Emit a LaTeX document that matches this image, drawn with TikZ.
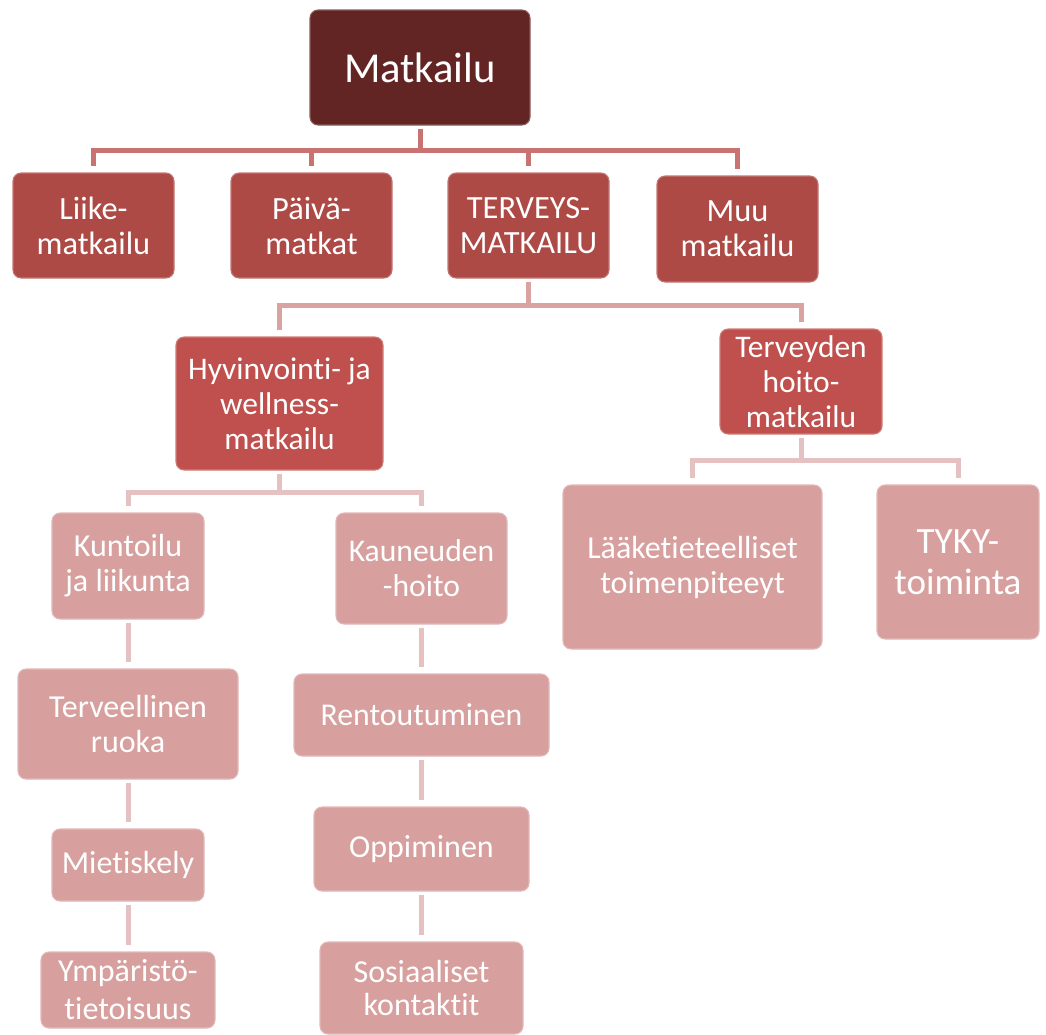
\documentclass[tikz,border=0pt]{standalone}
\usepackage{fontspec}
\setmainfont[Ligatures=NoCommon]{Carlito}
\definecolor{cTop}{HTML}{632523}
\definecolor{cL1}{HTML}{AE4A46}
\definecolor{cL2}{HTML}{C0504D}
\definecolor{cL3}{HTML}{D7A09F}
\definecolor{lnA}{HTML}{C87372}
\definecolor{lnB}{HTML}{D9A3A2}
\definecolor{lnC}{HTML}{E5C2C1}
\newcommand{\fsz}[2]{\fontsize{#1}{#2}\selectfont}
\tikzset{
  box/.style={rectangle, rounded corners=6pt, text=white, align=center, inner sep=0pt, line width=0.8pt},
  topbox/.style={box, fill=cTop, draw=cTop!75!white},
  lonebox/.style={box, fill=cL1, draw=cL1!75!white, font=\fsz{24.3}{26.25}},
  ltwobox/.style={box, fill=cL2, draw=cL2!75!white},
  lthreebox/.style={box, fill=cL3, draw=cL3!75!white},
  conn/.style={line width=3.75pt, shorten <=2.25pt, shorten >=4.5pt},
  connA/.style={conn, draw=lnA},
  connB/.style={conn, draw=lnB},
  connC/.style={conn, draw=lnC},
}
\begin{document}
\begin{tikzpicture}[x=0.75pt, y=-0.75pt]
\useasboundingbox (0,0) rectangle (1046,1035);
% top
\node[topbox, minimum width=165pt, minimum height=86.25pt, font=\fsz{32}{36}] (m) at (420,67.5) {Matkailu};
% level 1
\node[lonebox, minimum width=120.75pt, minimum height=78.75pt] (a1) at (93.5,225.5) {Liike-\\matkailu};
\node[lonebox, minimum width=120.75pt, minimum height=78.75pt] (a2) at (311.5,225.5) {Päivä-\\matkat};
\node[lonebox, minimum width=120.75pt, minimum height=78.75pt] (a3) at (528.5,225.5) {TERVEYS-\\MATKAILU};
\node[lonebox, minimum width=120.75pt, minimum height=79.5pt] (a4) at (737.5,229) {Muu\\matkailu};
% level 2
\node[ltwobox, minimum width=155.25pt, minimum height=99.75pt, font=\fsz{23.6}{26.25}] (h) at (279.5,403.5) {Hyvinvointi- ja\\wellness-\\matkailu};
\node[ltwobox, minimum width=121.5pt, minimum height=78.75pt, font=\fsz{23.6}{26.25}] (t) at (801,381.5) {Terveyden\\hoito-\\matkailu};
% level 3
\node[lthreebox, minimum width=114pt, minimum height=79.5pt, font=\fsz{24}{26.25}] (k) at (128,566) {Kuntoilu\\ja liikunta};
\node[lthreebox, minimum width=128.25pt, minimum height=83.25pt, font=\fsz{23.7}{26.25}] (ka) at (421.5,568.5) {Kauneuden\\-hoito};
\node[lthreebox, minimum width=194.25pt, minimum height=123pt, font=\fsz{24}{26.25}] (la) at (692.5,567) {Lääketieteelliset\\toimenpiteeyt};
\node[lthreebox, minimum width=121.5pt, minimum height=115.5pt, font=\fsz{27.8}{31}] (ty) at (958,562) {TYKY-\\toiminta};
\node[lthreebox, minimum width=165pt, minimum height=82.5pt, font=\fsz{24}{26.25}] (te) at (128,724) {Terveellinen\\ruoka};
\node[lthreebox, minimum width=191.25pt, minimum height=61.5pt, font=\fsz{23.8}{27}] (r) at (421.5,715) {Rentoutuminen};
\node[lthreebox, minimum width=114pt, minimum height=54pt, font=\fsz{24}{27}] (mi) at (128,865) {Mietiskely};
\node[lthreebox, minimum width=161.25pt, minimum height=63pt, font=\fsz{24}{27}] (o) at (421.5,849) {Oppiminen};
\node[lthreebox, minimum width=130.5pt, minimum height=57pt, font=\fsz{24}{28.5}] (y) at (128,990) {Ympäristö-\\tietoisuus};
\node[lthreebox, minimum width=152.25pt, minimum height=69pt, font=\fsz{24}{24.5}] (s) at (421.5,988) {Sosiaaliset\\kontaktit};
% connectors level 1
\draw[connA] (m.south) -- ++(0,25) -| (a1.north);
\draw[connA] (m.south) -- ++(0,25) -| (a2.north);
\draw[connA] (m.south) -- ++(0,25) -| (a3.north);
\draw[connA] (m.south) -- ++(0,25) -| (a4.north);
% level 2
\draw[connB] (a3.south) -- ++(0,27) -| (h.north);
\draw[connB] (a3.south) -- ++(0,27) -| (t.north);
% level 3
\draw[connC] (h.south) -- ++(0,22) -| (k.north);
\draw[connC] (h.south) -- ++(0,22) -| (ka.north);
\draw[connC] (t.south) -- ++(0,26) -| (la.north);
\draw[connC] (t.south) -- ++(0,26) -| (ty.north);
% chains
\draw[connC] (k.south) -- (te.north);
\draw[connC] (te.south) -- (mi.north);
\draw[connC] (mi.south) -- (y.north);
\draw[connC] (ka.south) -- (r.north);
\draw[connC] (r.south) -- (o.north);
\draw[connC] (o.south) -- (s.north);
\end{tikzpicture}
\end{document}
